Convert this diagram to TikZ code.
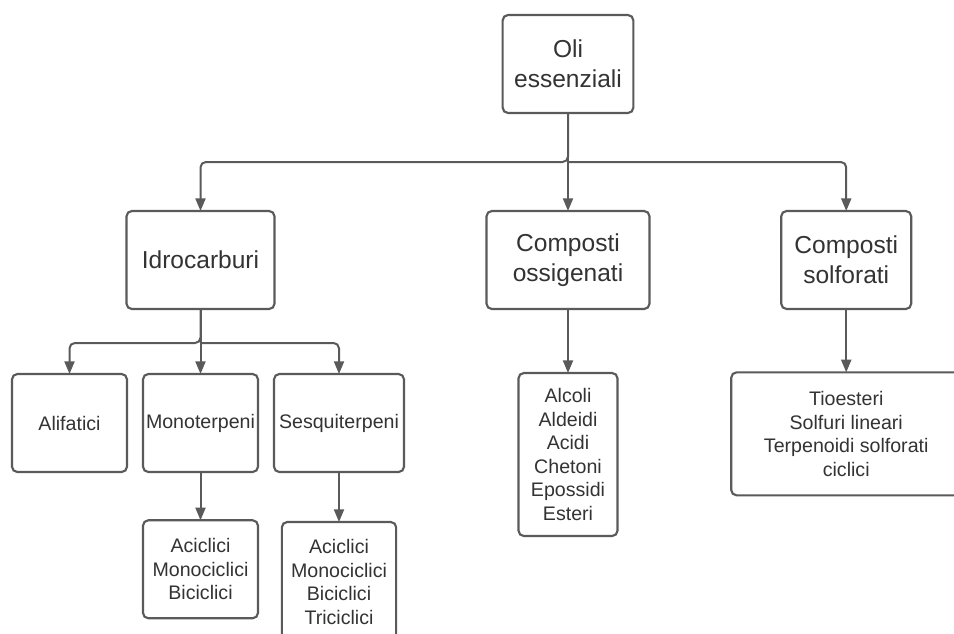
\documentclass[tikz,border=0pt]{standalone}
\usepackage{fontspec}
\setmainfont{Liberation Sans}
\usepackage{xcolor}
\usepackage{tikz}
\usetikzlibrary{positioning,arrows.meta}
\definecolor{LineGray}{HTML}{5A5A5A}
\definecolor{TextGray}{HTML}{333333}

\begin{document}
\begin{tikzpicture}[>={Triangle[length=9.5pt,width=7.5pt]},
                      cat/.style={draw=LineGray, line width=1.6pt, rounded corners=4pt, align=center,
                                  inner sep=0pt, outer sep=0pt, text=TextGray,
                                  font=\fontsize{18.4}{22.5}\selectfont},
                      sub/.style={cat, font=\fontsize{14.7}{17.6}\selectfont},
                      link/.style={draw=LineGray, line width=1.5pt, ->}]
  \fill[white] (0,0) rectangle (715.5pt,-474.75pt);
  \useasboundingbox (0,0) rectangle (715.5pt,-474.75pt);
  \node[cat, minimum width=98pt, minimum height=73.5pt] (oli) at (426pt,-48pt) {Oli\\essenziali};
  \node[cat, minimum width=122.25pt, minimum height=73.5pt, below=73.5pt of oli] (oss) {Composti\\ossigenati};
  \node[cat, minimum width=111pt, minimum height=73.5pt, left=159pt of oss] (idro) {Idrocarburi};
  \node[cat, minimum width=97.5pt, minimum height=73.5pt, right=98.8pt of oss] (solf) {Composti\\solforati};
  \node[sub, minimum width=86.25pt, minimum height=73.5pt, below=48.75pt of idro] (mono) {Monoterpeni};
  \node[sub, minimum width=86.25pt, minimum height=73.5pt, left=12pt of mono] (ali) {Alifatici};
  \node[sub, minimum width=97.5pt, minimum height=73.5pt, right=12pt of mono] (sesq) {Sesquiterpeni};
  \node[sub, minimum width=86.25pt, minimum height=73.5pt, below=36.2pt of mono] (monoch) {Aciclici\\Monociclici\\Biciclici};
  \node[sub, minimum width=85.75pt, minimum height=90pt, below=37.5pt of sesq] (sesqch) {Aciclici\\Monociclici\\Biciclici\\Triciclici};
  \node[sub, minimum width=74.25pt, minimum height=122.25pt, below=48pt of oss] (ossch) {Alcoli\\Aldeidi\\Acidi\\Chetoni\\Epossidi\\Esteri};
  \node[sub, minimum width=172.5pt, minimum height=92.25pt, below=47.5pt of solf] (solfch) {Tioesteri\\Solfuri lineari\\Terpenoidi solforati\\ciclici};
  \coordinate[below=36.75pt of oli] (j1);
  \coordinate[below=25.5pt of idro] (j2);
  \draw[link, rounded corners=4pt] (oli) -- (j1) -| (idro);
  \draw[link] (oli) -- (oss);
  \draw[link, rounded corners=4pt] (j1) -| (solf);
  \draw[link, rounded corners=4pt] (idro) -- (j2) -| (ali);
  \draw[link] (idro) -- (mono);
  \draw[link, rounded corners=4pt] (j2) -| (sesq);
  \draw[link] (mono) -- (monoch);
  \draw[link] (sesq) -- (sesqch);
  \draw[link] (oss) -- (ossch);
  \draw[link] (solf) -- (solfch);
\end{tikzpicture}
\end{document}
